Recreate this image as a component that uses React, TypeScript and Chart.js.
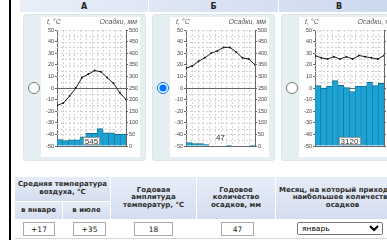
import React, { useEffect, useRef } from 'react';
import { Chart, registerables } from 'chart.js';
Chart.register(...registerables);

// ---- data ----
const months = ['Я', 'Ф', 'М', 'А', 'М', 'И', 'И', 'А', 'С', 'О', 'Н', 'Д'];
const tempA = [-15, -13, -7, 0, 9, 12, 15, 14, 9, 4, -4, -10];
const precA = [28, 23, 27, 27, 40, 55, 55, 75, 57, 57, 50, 51];
const tempB = [17, 19, 23, 26, 30, 32, 35, 35, 31, 26, 25, 20];
const precB = [15, 10, 10, 6, 0, 0, 0, 3, 0, 0, 0, 3];
const tempV = [28, 26, 25, 27, 25, 27, 25, 28, 27, 26, 25, 28];
const precV = [260, 250, 258, 282, 262, 252, 235, 258, 258, 275, 260, 270];
const totals = ['545', '47', '3120'];
const panelTitles = ['А', 'Б', 'В'];
const tempAxisLabel = 't, °C';
const precAxisLabel = 'Осадки, мм';
const janTemp = '+17';
const julTemp = '+35';
const amplitude = '18';
const yearPrec = '47';
const maxMonth = 'январь';

const FONT = "'Liberation Sans', Arial, sans-serif";
const TFONT = "'DejaVu Sans', Verdana, sans-serif";

const decoPlugin = {
  id: 'deco',
  beforeDatasetsDraw(chart: any) {
    const { ctx, chartArea: a, scales } = chart;
    const yT = scales.yT;
    const x = scales.x;
    ctx.save();
    ctx.strokeStyle = '#d2d2d2';
    ctx.lineWidth = 1;
    ctx.setLineDash([2, 2]);
    for (let v = -45; v <= 50; v += 5) {
      if (v === 0) continue;
      const y = Math.round(yT.getPixelForValue(v)) + 0.5;
      ctx.beginPath();
      ctx.moveTo(a.left, y);
      ctx.lineTo(a.right, y);
      ctx.stroke();
    }
    for (let i = 0; i < months.length - 1; i++) {
      const px = Math.round((x.getPixelForValue(i) + x.getPixelForValue(i + 1)) / 2) + 0.5;
      ctx.beginPath();
      ctx.moveTo(px, a.top);
      ctx.lineTo(px, a.bottom);
      ctx.stroke();
    }
    ctx.setLineDash([]);
    ctx.strokeStyle = '#666';
    const y0 = Math.round(yT.getPixelForValue(0)) + 0.5;
    ctx.beginPath();
    ctx.moveTo(a.left, y0);
    ctx.lineTo(a.right, y0);
    ctx.stroke();
    ctx.restore();
  },
  afterDraw(chart: any, _a: any, opts: any) {
    const { ctx, chartArea: a, width } = chart;
    ctx.save();
    ctx.fillStyle = '#555';
    ctx.font = `italic 7px ${FONT}`;
    ctx.textBaseline = 'middle';
    ctx.textAlign = 'left';
    ctx.fillText(tempAxisLabel, 6, 5);
    ctx.textAlign = 'right';
    ctx.fillText(precAxisLabel, width - 3, 5);
    ctx.font = `8px ${FONT}`;
    const t = opts.total;
    const w = ctx.measureText(t).width;
    const cx = (a.left + a.right) / 2;
    const cy = a.bottom - opts.offset;
    if (opts.boxed) {
      ctx.fillStyle = '#fff';
      ctx.fillRect(Math.round(cx - w / 2 - 2), Math.round(cy - 4), Math.round(w + 4), 8);
      ctx.strokeStyle = '#999';
      ctx.strokeRect(Math.round(cx - w / 2 - 2) + 0.5, Math.round(cy - 4) + 0.5, Math.round(w + 4) - 1, 7);
    }
    ctx.fillStyle = '#333';
    ctx.textAlign = 'center';
    ctx.fillText(t, cx, cy + 0.5);
    ctx.restore();
  },
};

function ClimateChart({ temps, precs, total, boxed, offset }: any) {
  const ref = useRef<HTMLCanvasElement>(null);
  useEffect(() => {
    const tickFont = { size: 5.5, family: FONT };
    const chart = new Chart(ref.current as HTMLCanvasElement, {
      data: {
        labels: months,
        datasets: [
          {
            type: 'line',
            data: temps.map((t: number, i: number) => ({ x: i, y: t })),
            xAxisID: 'x2',
            yAxisID: 'yT',
            borderColor: '#1a1a1a',
            borderWidth: 1,
            pointRadius: 1,
            pointBackgroundColor: '#1a1a1a',
            pointBorderWidth: 0,
            order: 0,
          } as any,
          {
            type: 'bar',
            data: precs,
            xAxisID: 'x',
            yAxisID: 'yP',
            backgroundColor: '#1ca3d3',
            borderColor: '#0d6b8d',
            borderWidth: { top: 1, left: 0.5, right: 0.5, bottom: 0 },
            barPercentage: 1,
            categoryPercentage: 1,
            grouped: false,
            order: 1,
          } as any,
        ],
      },
      options: {
        animation: false,
        responsive: false,
        devicePixelRatio: 1,
        datasets: { bar: { barPercentage: 1, categoryPercentage: 1 } } as any,
        layout: { padding: { top: 13, left: 0, right: 0, bottom: 0 } },
        plugins: {
          legend: { display: false },
          tooltip: { enabled: false },
          deco: { total, boxed, offset },
        } as any,
        scales: {
          x: {
            type: 'category',
            offset: true,
            grid: { display: false },
            border: { display: true, color: '#666' },
            ticks: {
              font: { size: 5.5, weight: 'bold', family: FONT },
              color: '#444',
              padding: 2,
              autoSkip: false,
              maxRotation: 0,
            },
            afterFit(s: any) { s.height = 11; },
          },
          x2: { type: 'linear', min: 0, max: months.length - 1, offset: false, display: false },
          yT: {
            position: 'left',
            min: -50,
            max: 50,
            ticks: { stepSize: 10, font: tickFont, color: '#444', padding: 1, autoSkip: false },
            grid: { drawOnChartArea: false, tickLength: 2, color: '#666' },
            border: { color: '#666' },
            afterFit(s: any) { s.width = 16; },
          },
          yP: {
            position: 'right',
            min: 0,
            max: 500,
            ticks: { stepSize: 50, font: tickFont, color: '#444', padding: 1, autoSkip: false },
            grid: { drawOnChartArea: false, tickLength: 2, color: '#666' },
            border: { color: '#666' },
            afterFit(s: any) { s.width = 14; },
          },
        } as any,
      },
      plugins: [decoPlugin as any],
    });
    return () => chart.destroy();
  }, []);
  return <canvas ref={ref} width={99} height={140} style={{ width: 99, height: 140, display: 'block' }} />;
}

const chartDefs = [
  { temps: tempA, precs: precA, total: totals[0], boxed: true, offset: 5, checked: false },
  { temps: tempB, precs: precB, total: totals[1], boxed: false, offset: 9, checked: true },
  { temps: tempV, precs: precV, total: totals[2], boxed: true, offset: 5, checked: false },
];

const panelLefts = [23, 152, 281];
const headerLefts = [20, 149, 279];
const headerWidths = [128, 129, 120];

const hdrBg = 'linear-gradient(#e7edf8, #d4ddef)';

function Cell({ left, top, width, height, children }: any) {
  return (
    <div
      style={{
        position: 'absolute', left, top, width, height, boxSizing: 'border-box',
        background: hdrBg, borderRight: '1px solid #fff', borderBottom: '1px solid #fff',
        display: 'flex', alignItems: 'center', justifyContent: 'center', textAlign: 'center',
        font: `bold 7px/7.6px ${TFONT}`, color: '#2d2d2d', overflow: 'hidden', whiteSpace: 'pre',
      }}
    >
      {children}
    </div>
  );
}

const inputStyle: any = {
  position: 'absolute', boxSizing: 'border-box', height: 14, top: 222,
  border: '1px solid #a9a9a9', background: '#fff', font: `7.5px ${TFONT}`, color: '#222',
  textAlign: 'center', padding: 0, margin: 0, outline: 'none',
};

export default function App() {
  return (
    <div style={{ position: 'absolute', left: 0, top: 0, width: 387, height: 240, overflow: 'hidden', background: '#fff' }}>
      <div style={{ position: 'absolute', left: 9, top: 0, width: 1.5, height: 240, background: '#000' }} />
      {panelTitles.map((t, i) => (
        <div
          key={t}
          style={{
            position: 'absolute', left: headerLefts[i], top: 0, width: headerWidths[i], height: 12,
            background: i === 0 ? 'linear-gradient(90deg,#e9eff9,#dfe7f5)' : i === 1 ? 'linear-gradient(90deg,#dfe7f5,#d5dff1)' : 'linear-gradient(90deg,#d5dff1,#cbd8ee)',
            display: 'flex', alignItems: 'center', justifyContent: 'center',
            font: `bold 8px ${TFONT}`, color: '#222',
          }}
        >
          {t}
        </div>
      ))}
      {chartDefs.map((c, i) => (
        <React.Fragment key={i}>
          <div
            style={{
              position: 'absolute', left: panelLefts[i], top: 14, width: 123, height: 147, boxSizing: 'border-box',
              background: '#e5eef0', border: '1px solid #dbe6e8', borderRadius: 3,
            }}
          />
          <input
            type="radio"
            readOnly
            checked={c.checked}
            style={{ position: 'absolute', left: panelLefts[i] + 5, top: 82, width: 12, height: 12, margin: 0 }}
          />
          <div style={{ position: 'absolute', left: panelLefts[i] + 18, top: 17, width: 99, height: 140, background: '#fff' }}>
            <ClimateChart temps={c.temps} precs={c.precs} total={c.total} boxed={c.boxed} offset={c.offset} />
          </div>
        </React.Fragment>
      ))}

      <Cell left={15} top={177} width={96} height={25}>{'Средняя температура\nвоздуха, °С'}</Cell>
      <Cell left={15} top={202} width={48} height={18}>в январе</Cell>
      <Cell left={63} top={202} width={48} height={18}>в июле</Cell>
      <Cell left={111} top={177} width={86} height={43}>{'Годовая\nамплитуда\nтемператур, °С'}</Cell>
      <Cell left={197} top={177} width={79} height={43}>{'Годовое\nколичество\nосадков, мм'}</Cell>
      <Cell left={276} top={177} width={134} height={43}>{'Месяц, на который приходится\nнаибольшее количество\nосадков'}</Cell>
      <div style={{ position: 'absolute', left: 15, top: 238, width: 372, height: 1, background: '#d6d6d6' }} />
      <input readOnly value={janTemp} style={{ ...inputStyle, left: 23, width: 32 }} />
      <input readOnly value={julTemp} style={{ ...inputStyle, left: 73, width: 33 }} />
      <input readOnly value={amplitude} style={{ ...inputStyle, left: 134, width: 39 }} />
      <input readOnly value={yearPrec} style={{ ...inputStyle, left: 221, width: 33 }} />
      <select
        value={maxMonth}
        onChange={() => {}}
        style={{ position: 'absolute', left: 297, top: 222, width: 86, height: 13, font: `7.5px ${TFONT}`, padding: 0, margin: 0, boxSizing: 'border-box' }}
      >
        <option value={maxMonth}>{maxMonth}</option>
      </select>
    </div>
  );
}
